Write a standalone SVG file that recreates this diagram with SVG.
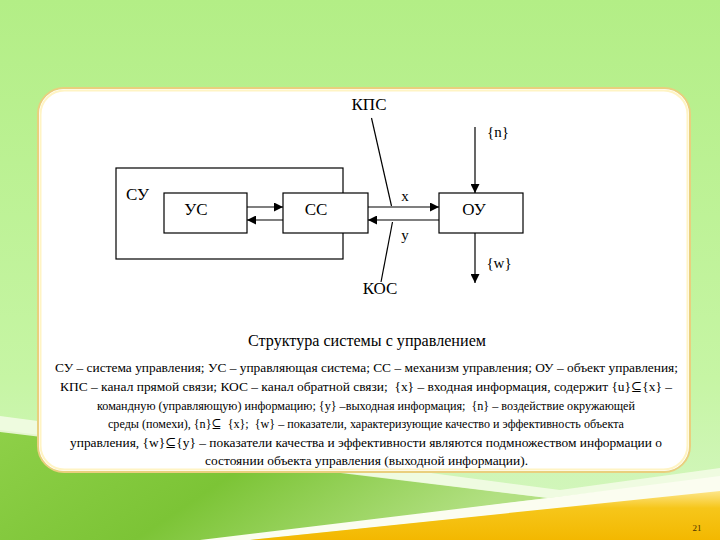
<svg xmlns="http://www.w3.org/2000/svg" width="720" height="540" viewBox="0 0 720 540">
<defs>
<linearGradient id="bg" x1="0" y1="0" x2="0" y2="1">
<stop offset="0" stop-color="#b3ee86"/>
<stop offset="0.7" stop-color="#c6f5a4"/>
<stop offset="1" stop-color="#d6f6c4"/>
</linearGradient>
<linearGradient id="grn" x1="0" y1="0" x2="1" y2="0.3">
<stop offset="0" stop-color="#8ed048"/>
<stop offset="0.5" stop-color="#7cc436"/>
<stop offset="1" stop-color="#b2e082"/>
</linearGradient>
<linearGradient id="yel" x1="0" y1="0" x2="0" y2="1">
<stop offset="0" stop-color="#fde68a"/>
<stop offset="0.35" stop-color="#f6c61a"/>
<stop offset="1" stop-color="#f3b800"/>
</linearGradient>
<marker id="ah" viewBox="0 0 10 10" refX="10" refY="5" markerWidth="9" markerHeight="9" markerUnits="userSpaceOnUse" orient="auto">
<path d="M0,0 L10,5 L0,10 Z" fill="#000"/>
</marker>
<style>
text{font-family:'Liberation Serif','DejaVu Serif',serif}
.lbl{font-size:17px;fill:#000}
.sm{font-size:15px;fill:#000}
.body{font-size:13px;fill:#000;white-space:pre}
.box{fill:#fff;stroke:#000;stroke-width:1.2}
.ln{stroke:#000;stroke-width:1.2;fill:none}
</style>
</defs>
<g id="background">
<rect x="0" y="0" width="720" height="540" fill="url(#bg)"/>
<path d="M0,430 L548,498 L220,540 L0,540 Z" fill="url(#grn)"/>
<path d="M0,416 L560,490 L720,468 L720,478 L548,498 L0,432 Z" fill="#f4fbe8" opacity="0.85"/>
<path d="M200,540 L548,498 L720,476 L720,492 L250,540 Z" fill="#fbfdf0"/>
<path d="M250,540 L720,491 L720,540 Z" fill="url(#yel)"/>
<text x="697" y="531" font-size="9" fill="#4a3000" text-anchor="middle">21</text>
</g>
<g id="panel">
<rect x="38" y="88" width="652" height="384" rx="26" ry="26" fill="#fff" stroke="#e9cf7e" stroke-width="2"/>
<rect x="40.5" y="90.5" width="647" height="379" rx="24" ry="24" fill="none" stroke="#fff4c4" stroke-width="2"/>
</g>
<g id="SU">
<rect class="box" x="116" y="168" width="227" height="91"/>
<text class="lbl" x="126" y="200">СУ</text>
</g>
<g id="US">
<rect class="box" x="164" y="193" width="83" height="40"/>
<text class="lbl" x="196" y="215" text-anchor="middle">УС</text>
</g>
<g id="SS">
<rect class="box" x="283" y="193" width="85" height="40"/>
<text class="lbl" x="316" y="215" text-anchor="middle">СС</text>
</g>
<g id="OU">
<rect class="box" x="439" y="193" width="84" height="40"/>
<text class="lbl" x="474" y="215" text-anchor="middle">ОУ</text>
</g>
<g id="connectors">
<line class="ln" x1="247" y1="207" x2="283" y2="207" marker-end="url(#ah)"/>
<line class="ln" x1="283" y1="220" x2="247" y2="220" marker-end="url(#ah)"/>
<line class="ln" x1="368" y1="207" x2="439" y2="207" marker-end="url(#ah)"/>
<line class="ln" x1="439" y1="220" x2="368" y2="220" marker-end="url(#ah)"/>
<line class="ln" x1="475" y1="127" x2="475" y2="193" marker-end="url(#ah)"/>
<line class="ln" x1="475" y1="233" x2="475" y2="283" marker-end="url(#ah)"/>
<line class="ln" x1="371.5" y1="118" x2="391.5" y2="206"/>
<line class="ln" x1="392.5" y1="222" x2="381" y2="282"/>
</g>
<g id="labels">
<text class="lbl" x="369" y="110" text-anchor="middle">КПС</text>
<text class="lbl" x="380" y="294" text-anchor="middle">КОС</text>
<text class="sm" x="405" y="201" text-anchor="middle">x</text>
<text class="sm" x="405" y="240" text-anchor="middle">y</text>
<text class="sm" x="498" y="137" text-anchor="middle">{n}</text>
<text class="sm" x="499" y="268" text-anchor="middle">{w}</text>
</g>
<g id="caption">
<text class="lbl" x="367" y="346" text-anchor="middle" font-size="16" textLength="238" lengthAdjust="spacingAndGlyphs">Структура системы с управлением</text>
<text class="body" x="366.5" y="372" text-anchor="middle" textLength="623" lengthAdjust="spacingAndGlyphs">СУ – система управления; УС – управляющая система; СС – механизм управления; ОУ – объект управления;</text>
<text class="body" x="366" y="391" text-anchor="middle" textLength="612" lengthAdjust="spacingAndGlyphs">КПС – канал прямой связи; КОС – канал обратной связи;  {x} – входная информация, содержит {u}⊆{x} –</text>
<text class="body" x="366" y="410" text-anchor="middle" textLength="538" lengthAdjust="spacingAndGlyphs">командную (управляющую) информацию; {y} –выходная информация;  {n} – воздействие окружающей</text>
<text class="body" x="366" y="428" text-anchor="middle" textLength="516" lengthAdjust="spacingAndGlyphs">среды (помехи), {n}⊆  {x};  {w} – показатели, характеризующие качество и эффективность объекта</text>
<text class="body" x="366" y="447" text-anchor="middle" textLength="592" lengthAdjust="spacingAndGlyphs">управления, {w}⊆{y} – показатели качества и эффективности являются подмножеством информации о</text>
<text class="body" x="366.5" y="465" text-anchor="middle" textLength="323" lengthAdjust="spacingAndGlyphs">состоянии объекта управления (выходной информации).</text>
</g>
</svg>
